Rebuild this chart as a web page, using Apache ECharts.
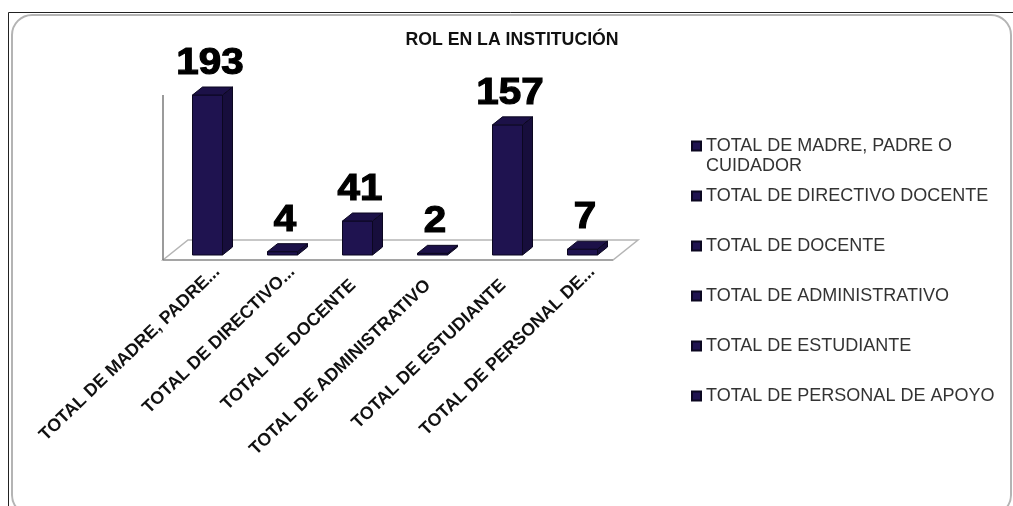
<!DOCTYPE html>
<html><head><meta charset="utf-8">
<style>html,body{margin:0;padding:0;background:#fff}#c{width:1013px;height:506px}</style>
<script src="https://cdn.jsdelivr.net/npm/echarts@6/dist/echarts.min.js"></script>
</head><body><div id="c"></div>
<script>
const titleText = 'ROL EN LA INSTITUCIÓN';
const legendNames = ['TOTAL DE MADRE, PADRE O CUIDADOR','TOTAL DE DIRECTIVO DOCENTE','TOTAL DE DOCENTE','TOTAL DE ADMINISTRATIVO','TOTAL DE ESTUDIANTE','TOTAL DE PERSONAL DE APOYO'];
const tickLabels = ['TOTAL DE MADRE, PADRE...','TOTAL DE DIRECTIVO...','TOTAL DE DOCENTE','TOTAL DE ADMINISTRATIVO','TOTAL DE ESTUDIANTE','TOTAL DE PERSONAL DE...'];
const values = [193,4,41,2,157,7];

const FONT = '"Liberation Sans", Arial, sans-serif';
const FRONT='#1f1350', SIDE='#170e3c', TOP='#1c1148', EDGE='#0b0720';
const chart = echarts.init(document.getElementById('c'),null,{renderer:'canvas'});

function renderBar(params, api){
  const i=api.value(0), v=api.value(1);
  const base=api.coord([i,0]), top=api.coord([i,v]);
  const cx=base[0], w=30, dx=10, dy=8;
  const l=cx-w/2, r=cx+w/2, b=base[1], t=top[1];
  const st={stroke:EDGE,lineWidth:1};
  return {type:'group',children:[
    {type:'polygon',shape:{points:[[l,b],[r,b],[r,t],[l,t]]},style:{fill:FRONT,...st}},
    {type:'polygon',shape:{points:[[r,b],[r+dx,b-dy],[r+dx,t-dy],[r,t]]},style:{fill:SIDE,...st}},
    {type:'polygon',shape:{points:[[l,t],[r,t],[r+dx,t-dy],[l+dx,t-dy]]},style:{fill:TOP,...st}},
    {type:'text',x:cx+2.5,y:t-dy-5,scaleX:1.12,
      style:{text:String(v),font:'bold 36px '+FONT,fill:'#000',stroke:'#000',lineWidth:1.2,textAlign:'center',textVerticalAlign:'bottom'}}
  ]};
}
function renderFloor(params, api){
  const a=api.coord([0,0]), z=api.coord([5,0]), top=api.coord([0,193]);
  const band=(z[0]-a[0])/5;
  const fy=a[1]+5, by=a[1]-15, L=a[0]-band/2-7, R=z[0]+band/2-7, d=25;
  return {type:'group',children:[
    {type:'polygon',shape:{points:[[L,fy],[R,fy],[R+d,by],[L+d,by]]},style:{fill:'#fff',stroke:'#b5b5b5',lineWidth:1.5}},
    {type:'line',shape:{x1:L,y1:fy,x2:R,y2:fy},style:{stroke:'#9a9a9a',lineWidth:1.5}},
    {type:'line',shape:{x1:L,y1:top[1],x2:L,y2:fy},style:{stroke:'#7a7a7a',lineWidth:1.5}}
  ]};
}
const barSeries = legendNames.map((n,i)=>({
  name:n,type:'custom',coordinateSystem:'cartesian2d',renderItem:renderBar,z:3,
  itemStyle:{color:FRONT,borderColor:EDGE,borderWidth:1},
  encode:{x:0,y:1},data:[[i,values[i]]],clip:false
}));
const legendText={fontFamily:FONT,fontSize:18,color:'#333'};
chart.setOption({
  animation:false,
  backgroundColor:'#fff',
  title:{text:titleText,left:507,top:26,textAlign:'center',textStyle:{fontFamily:FONT,fontSize:17.7,fontWeight:'bold',color:'#111'}},
  grid:{left:170,width:450,top:89.2,height:165.8},
  xAxis:{type:'category',data:tickLabels.map((t,i)=>i),
    axisLine:{show:false},axisTick:{show:false},
    axisLabel:{interval:0,rotate:44,margin:4,verticalAlign:'top',lineHeight:28,fontFamily:FONT,fontSize:17.8,fontWeight:'bold',color:'#111',
      formatter:(v,i)=>tickLabels[i].endsWith('...')?tickLabels[i]:tickLabels[i]+'\u00a0\u00a0\u00a0\u00a0'}},
  yAxis:{type:'value',min:0,max:200,show:false},
  legend:[
    {orient:'vertical',left:686,top:132,itemWidth:9,itemHeight:9,itemGap:0,icon:'rect',data:[legendNames[0]],
     textStyle:legendText,formatter:()=>'TOTAL DE MADRE, PADRE O'},
    {orient:'vertical',left:686,top:182,itemWidth:9,itemHeight:9,itemGap:32,icon:'rect',data:legendNames.slice(1),textStyle:legendText}
  ],
  graphic:[
    {type:'line',silent:true,shape:{x1:8.5,y1:12.5,x2:1013,y2:12.5},style:{stroke:'#222',lineWidth:1}},
    {type:'line',silent:true,shape:{x1:8.5,y1:12.5,x2:8.5,y2:506},style:{stroke:'#222',lineWidth:1}},
    {type:'rect',silent:true,shape:{x:12,y:15,width:999,height:500,r:20},style:{fill:'none',stroke:'#b4b4b4',lineWidth:2}},
    {type:'text',silent:true,x:706,y:157,style:{text:'CUIDADOR',font:'18px '+FONT,fill:'#333'}}
  ],
  series:[{type:'custom',name:'floor',coordinateSystem:'cartesian2d',renderItem:renderFloor,z:1,encode:{x:0,y:1},data:[[0,0]],clip:false,legendHoverLink:false},...barSeries]
});
</script></body></html>
